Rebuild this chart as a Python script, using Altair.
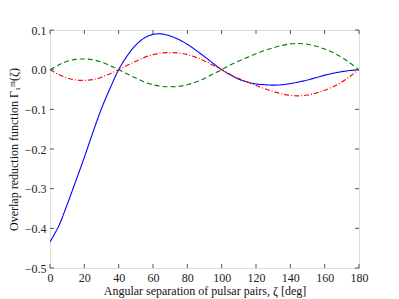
import altair as alt
import pandas as pd

zeta = [0, 5, 10, 15, 20, 25, 30, 35, 40, 45, 50, 55, 60, 65, 70, 75, 80, 85, 90,
        95, 100, 105, 110, 115, 120, 125, 130, 135, 140, 145, 150, 155, 160, 165,
        170, 175, 180]
blue = [-0.434, -0.395, -0.340, -0.281, -0.221, -0.158, -0.098, -0.047, 0.0, 0.035,
        0.062, 0.080, 0.089, 0.090, 0.085, 0.076, 0.064, 0.049, 0.033, 0.016, 0.0,
        -0.013, -0.024, -0.031, -0.036, -0.038, -0.039, -0.038, -0.035, -0.031,
        -0.026, -0.020, -0.014, -0.009, -0.005, -0.002, 0.0]
green = [0.0, 0.012, 0.021, 0.026, 0.027, 0.025, 0.019, 0.010, 0.0, -0.011, -0.021,
         -0.031, -0.038, -0.042, -0.043, -0.042, -0.038, -0.031, -0.022, -0.011, 0.0,
         0.012, 0.022, 0.031, 0.040, 0.048, 0.055, 0.061, 0.065, 0.066, 0.064, 0.059,
         0.052, 0.043, 0.031, 0.016, 0.0]
red = [0.0, -0.012, -0.021, -0.026, -0.027, -0.025, -0.019, -0.010, 0.0, 0.011,
       0.021, 0.031, 0.038, 0.042, 0.043, 0.042, 0.038, 0.031, 0.022, 0.011, 0.0,
       -0.012, -0.022, -0.031, -0.040, -0.048, -0.055, -0.061, -0.065, -0.066,
       -0.064, -0.059, -0.052, -0.043, -0.031, -0.016, 0.0]

x_ticks = [0, 20, 40, 60, 80, 100, 120, 140, 160, 180]
y_ticks = [-0.5, -0.4, -0.3, -0.2, -0.1, 0.0, 0.1]

series = ["m0", "m1", "m-1"]
colors = ["#0000ff", "#008000", "#ff0000"]
dashes = [[1, 0], [5, 3], [5, 2, 1, 2]]

rows = []
for s, vals in zip(series, [blue, green, red]):
    for z, v in zip(zeta, vals):
        rows.append({"zeta": z, "val": v, "s": s})
df = pd.DataFrame(rows)

font = "Liberation Serif"
W, H = 309, 238

xs = alt.Scale(domain=[0, 180], nice=False)
ys = alt.Scale(domain=[-0.5, 0.1], nice=False)

x_axis = alt.Axis(values=x_ticks, title="Angular separation of pulsar pairs, ζ [deg]",
                  grid=False, ticks=False, domain=False, labelPadding=4,
                  labelOverlap=False, labelFlush=False,
                  labelFont=font, labelFontSize=12, labelColor="#222",
                  titleFont=font, titleFontSize=12, titleFontWeight="normal",
                  titleColor="#111", titlePadding=2)
y_axis = alt.Axis(values=y_ticks, format=".1f",
                  labelExpr="replace(format(datum.value, '.1f'), '-', '−')",
                  title="Overlap reduction function Γ₁ᵐ(ζ)",
                  grid=False, ticks=False, domain=False, labelPadding=4,
                  labelOverlap=False, labelFlush=False,
                  labelFont=font, labelFontSize=12, labelColor="#222",
                  titleFont=font, titleFontSize=12, titleFontWeight="normal",
                  titleColor="#111", titlePadding=4)

lines = alt.Chart(df).mark_line(strokeWidth=1.1, clip=True, interpolate="catmull-rom").encode(
    x=alt.X("zeta:Q", scale=xs, axis=x_axis),
    y=alt.Y("val:Q", scale=ys, axis=y_axis),
    color=alt.Color("s:N", scale=alt.Scale(domain=series, range=colors), legend=None),
    strokeDash=alt.StrokeDash("s:N", scale=alt.Scale(domain=series, range=dashes), legend=None),
    detail="s:N",
)

tick_col = "#555"
xt = pd.DataFrame({"t": x_ticks})
yt = pd.DataFrame({"t": y_ticks})
xb = alt.Chart(xt).mark_rule(color=tick_col, strokeWidth=1).encode(
    x=alt.X("t:Q", scale=xs, axis=x_axis), y=alt.value(H), y2=alt.value(H - 4))
xtop = alt.Chart(xt).mark_rule(color=tick_col, strokeWidth=1).encode(
    x=alt.X("t:Q", scale=xs, axis=x_axis), y=alt.value(0), y2=alt.value(4))
yl = alt.Chart(yt).mark_rule(color=tick_col, strokeWidth=1).encode(
    y=alt.Y("t:Q", scale=ys, axis=y_axis), x=alt.value(0), x2=alt.value(4))
yr = alt.Chart(yt).mark_rule(color=tick_col, strokeWidth=1).encode(
    y=alt.Y("t:Q", scale=ys, axis=y_axis), x=alt.value(W), x2=alt.value(W - 4))

chart = alt.layer(lines, xb, xtop, yl, yr).properties(
    width=W, height=H,
    autosize=alt.AutoSizeParams(type="none"),
    padding={"left": 42, "top": 22, "right": 30, "bottom": 30},
).configure_view(stroke="#666", strokeWidth=1.5).configure(background="white")

chart.save("out.html", embed_options={"renderer": "svg", "actions": False})
